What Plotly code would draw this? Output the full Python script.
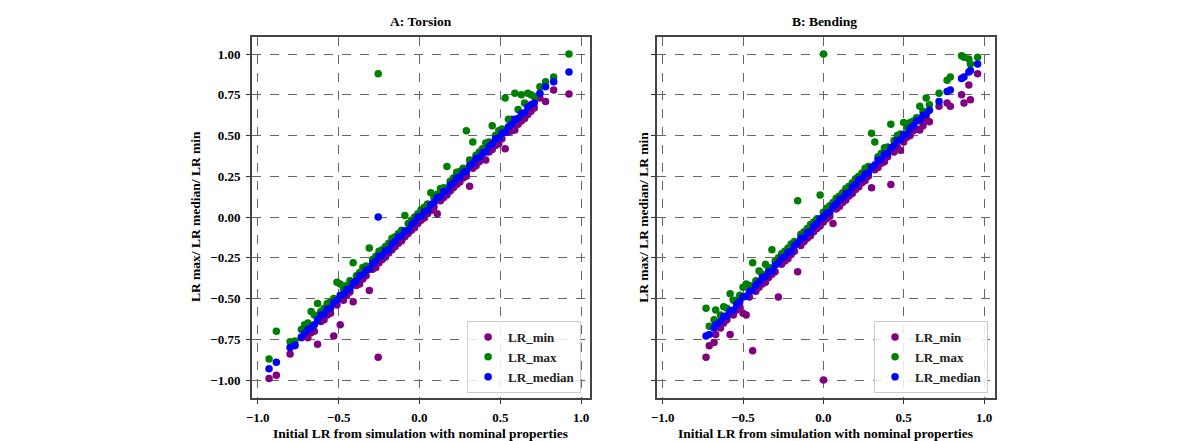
import plotly.graph_objects as go

# ---------------- A: Torsion ----------------
tor_x = [-0.93, -0.885, -0.80, -0.77, -0.73, -0.71, -0.69, -0.67, -0.65,
         -0.63, -0.61, -0.59, -0.57, -0.55, -0.53, -0.51, -0.49, -0.47, -0.45,
         -0.43, -0.41, -0.39, -0.37, -0.35, -0.33, -0.31, -0.29, -0.27, -0.25,
         -0.23, -0.21, -0.19, -0.17, -0.15, -0.13, -0.11, -0.09, -0.07, -0.05,
         -0.03, -0.01, 0.01, 0.03, 0.05, 0.07, 0.09, 0.11, 0.13, 0.15,
         0.17, 0.19, 0.21, 0.23, 0.25, 0.27, 0.29, 0.31, 0.33, 0.35,
         0.37, 0.39, 0.41, 0.43, 0.45, 0.47, 0.49, 0.51, 0.53, 0.55,
         0.57, 0.59, 0.61, 0.63, 0.65, 0.67, 0.69, 0.71,
         0.745, 0.78, 0.83, 0.925, -0.255]
tor_min = [-0.99, -0.97, -0.84, -0.79, -0.74, -0.73, -0.74, -0.71, -0.70,
           -0.78, -0.64, -0.63, -0.60, -0.59, -0.73, -0.54, -0.66, -0.51, -0.48,
           -0.46, -0.52, -0.42, -0.41, -0.38, -0.36, -0.45, -0.32, -0.31, -0.28,
           -0.26, -0.245, -0.22, -0.20, -0.18, -0.16, -0.145, -0.12, -0.10, -0.08,
           -0.065, -0.04, -0.02, -0.005, 0.02, 0.04, 0.06, 0.02, 0.10, 0.12,
           0.135, 0.16, 0.18, 0.20, 0.215, 0.24, 0.25, 0.19, 0.30, 0.315,
           0.34, 0.36, 0.35, 0.40, 0.415, 0.44, 0.45, 0.48, 0.42, 0.52,
           0.53, 0.535, 0.57, 0.59, 0.605, 0.63, 0.65, 0.67,
           0.73, 0.71, 0.78, 0.755, -0.86]
tor_max = [-0.87, -0.70, -0.765, -0.76, -0.69, -0.66, -0.65, -0.58, -0.60,
           -0.53, -0.58, -0.56, -0.53, -0.52, -0.50, -0.40, -0.41, -0.44, -0.42,
           -0.39, -0.28, -0.36, -0.34, -0.31, -0.30, -0.19, -0.26, -0.24, -0.21,
           -0.20, -0.18, -0.16, -0.13, -0.12, -0.10, -0.08, 0.01, -0.04, -0.02,
           0.00, 0.02, 0.045, 0.06, 0.08, 0.15, 0.12, 0.14, 0.175, 0.18,
           0.31, 0.22, 0.24, 0.275, 0.28, 0.30, 0.53, 0.35, 0.46, 0.38,
           0.40, 0.42, 0.455, 0.46, 0.56, 0.50, 0.53, 0.54, 0.73, 0.60,
           0.60, 0.76, 0.66, 0.75, 0.70, 0.76, 0.75, 0.74,
           0.80, 0.83, 0.86, 1.00, 0.88]
tor_med = [-0.93, -0.89, -0.80, -0.785, -0.735, -0.71, -0.69, -0.68, -0.66,
           -0.63, -0.60, -0.595, -0.565, -0.56, -0.525, -0.51, -0.48, -0.475, -0.445,
           -0.44, -0.405, -0.39, -0.36, -0.355, -0.325, -0.32, -0.285, -0.27, -0.24,
           -0.235, -0.205, -0.20, -0.165, -0.15, -0.12, -0.115, -0.085, -0.08, -0.045,
           -0.03, 0.00, 0.005, 0.035, 0.04, 0.075, 0.09, 0.12, 0.125, 0.155,
           0.16, 0.195, 0.21, 0.24, 0.245, 0.275, 0.28, 0.315, 0.33, 0.36,
           0.365, 0.395, 0.40, 0.435, 0.45, 0.48, 0.485, 0.515, 0.52, 0.555,
           0.57, 0.60, 0.605, 0.635, 0.64, 0.675, 0.69, 0.70,
           0.76, 0.80, 0.83, 0.89, 0.00]

# ---------------- B: Bending ----------------
ben_x = [-0.73, -0.71, -0.68, -0.67,
         -0.64, -0.62, -0.60, -0.58, -0.56, -0.54, -0.52, -0.50, -0.48, -0.46,
         -0.44, -0.42, -0.40, -0.38, -0.36, -0.34, -0.32, -0.30, -0.28, -0.26,
         -0.24, -0.22, -0.20, -0.18, -0.16, -0.14, -0.12, -0.10, -0.08, -0.06,
         -0.04, -0.02, 0.00, 0.02, 0.04, 0.06, 0.08, 0.10, 0.12, 0.14,
         0.16, 0.18, 0.20, 0.22, 0.24, 0.26, 0.28, 0.30, 0.32, 0.34,
         0.36, 0.38, 0.40, 0.42, 0.44, 0.46, 0.48, 0.50, 0.52, 0.54,
         0.56, 0.58, 0.60, 0.62, 0.64, 0.66,
         0.72, 0.77, 0.79, 0.86, 0.875, 0.905, 0.915, 0.96, 0.001]
ben_min = [-0.86, -0.79, -0.77, -0.72,
           -0.68, -0.65, -0.63, -0.72, -0.60, -0.57, -0.55, -0.59, -0.60, -0.49,
           -0.82, -0.455, -0.43, -0.41, -0.40, -0.37, -0.35, -0.335, -0.49, -0.29,
           -0.27, -0.255, -0.23, -0.21, -0.335, -0.175, -0.15, -0.13, -0.115, -0.09,
           -0.07, -0.055, -0.03, -0.01, 0.005, -0.04, 0.05, 0.065, 0.09, 0.105,
           0.13, 0.145, 0.17, 0.185, 0.21, 0.225, 0.25, 0.18, 0.29, 0.305,
           0.33, 0.34, 0.37, 0.20, 0.40, 0.43, 0.41, 0.46, 0.49, 0.50,
           0.53, 0.54, 0.535, 0.56, 0.60, 0.585,
           0.68, 0.70, 0.68, 0.75, 0.70, 0.81, 0.72, 0.88, -1.00]
ben_max = [-0.56, -0.67, -0.63, -0.57,
           -0.60, -0.55, -0.56, -0.47, -0.51, -0.51, -0.48, -0.43, -0.41, -0.42,
           -0.28, -0.39, -0.33, -0.35, -0.29, -0.31, -0.20, -0.27, -0.25, -0.225,
           -0.21, -0.19, -0.165, -0.15, 0.10, -0.105, -0.09, -0.07, -0.045, -0.03,
           -0.01, 0.135, 0.03, 0.055, 0.07, 0.09, 0.115, 0.13, 0.15, 0.175,
           0.19, 0.21, 0.235, 0.25, 0.27, 0.30, 0.31, 0.515, 0.46, 0.37,
           0.39, 0.425, 0.43, 0.57, 0.47, 0.50, 0.51, 0.58, 0.55, 0.58,
           0.59, 0.61, 0.68, 0.65, 0.73, 0.69,
           0.76, 0.84, 0.86, 0.99, 0.98, 0.97, 0.94, 0.98, 1.00]
ben_med = [-0.73, -0.72, -0.68, -0.66,
           -0.64, -0.61, -0.605, -0.575, -0.57, -0.535, -0.52, -0.49, -0.485, -0.455,
           -0.45, -0.415, -0.40, -0.37, -0.365, -0.335, -0.33, -0.295, -0.28, -0.25,
           -0.245, -0.215, -0.21, -0.175, -0.16, -0.13, -0.125, -0.095, -0.09, -0.055,
           -0.04, -0.01, 0.00, 0.025, 0.03, 0.065, 0.08, 0.11, 0.115, 0.145,
           0.15, 0.185, 0.20, 0.23, 0.235, 0.265, 0.27, 0.305, 0.32, 0.35,
           0.355, 0.385, 0.39, 0.425, 0.44, 0.47, 0.475, 0.505, 0.51, 0.545,
           0.56, 0.59, 0.595, 0.625, 0.63, 0.655,
           0.71, 0.77, 0.78, 0.85, 0.86, 0.89, 0.90, 0.94, 0.00]

series_names = ["LR_min", "LR_max", "LR_median"]
series_colors = ["#800080", "#008000", "#0000ff"]
x_ticks = [-1.0, -0.5, 0.0, 0.5, 1.0]
y_ticks = [-1.00, -0.75, -0.50, -0.25, 0.00, 0.25, 0.50, 0.75, 1.00]

W, H = 1190, 441
FONT = "Liberation Serif"

fig = go.Figure()

panels = [
    (tor_x, [tor_min, tor_max, tor_med], "x", "y", "legend"),
    (ben_x, [ben_min, ben_max, ben_med], "x2", "y2", "legend2"),
]
for xs, ys_list, xa, ya, lg in panels:
    for name, col, ys in zip(series_names, series_colors, ys_list):
        fig.add_trace(go.Scatter(
            x=xs, y=ys, mode="markers", name=name,
            marker=dict(color=col, size=7.5, line=dict(width=0)),
            xaxis=xa, yaxis=ya, legend=lg, showlegend=True,
        ))

tickfont = dict(family=FONT, size=13, color="black", weight="bold")
common_axis = dict(
    showline=True, mirror=True, linecolor="#444444", linewidth=1.5,
    ticks="outside", ticklen=4, tickcolor="#333333", tickwidth=1,
    showgrid=True, gridcolor="#666666", gridwidth=1, griddash="dash",
    zeroline=False, tickfont=tickfont, ticklabelstandoff=3,
)

legend_font = dict(family=FONT, size=13, color="#222222", weight="bold")
fig.update_layout(
    width=W, height=H,
    margin=dict(l=0, r=0, t=0, b=0),
    paper_bgcolor="white", plot_bgcolor="white",
    xaxis=dict(domain=[247 / W, 587 / W], range=[-1.037, 1.055], anchor="y",
               tickvals=x_ticks, ticktext=["−1.0", "−0.5", "0.0", "0.5", "1.0"],
               **common_axis),
    yaxis=dict(domain=[43 / H, 404 / H], range=[-1.11, 1.105], anchor="x",
               tickvals=y_ticks,
               ticktext=["−1.00", "−0.75", "−0.50", "−0.25", "0.00", "0.25", "0.50", "0.75", "1.00"],
               **common_axis),
    xaxis2=dict(domain=[654 / W, 994 / W], range=[-1.037, 1.068], anchor="y2",
                tickvals=x_ticks, ticktext=["−1.0", "−0.5", "0.0", "0.5", "1.0"],
                **common_axis),
    yaxis2=dict(domain=[43 / H, 404 / H], range=[-1.11, 1.105], anchor="x2",
                tickvals=y_ticks, showticklabels=False, **common_axis),
    legend=dict(x=578 / W, y=48 / H, xanchor="right", yanchor="bottom",
                bgcolor="rgba(255,255,255,0.85)", bordercolor="#cccccc", borderwidth=1,
                font=legend_font, itemwidth=30, tracegroupgap=0),
    legend2=dict(x=987 / W, y=48 / H, xanchor="right", yanchor="bottom",
                 bgcolor="rgba(255,255,255,0.85)", bordercolor="#cccccc", borderwidth=1,
                 font=legend_font, itemwidth=30, tracegroupgap=0),
)

title_font = dict(family=FONT, size=13.5, color="black", weight="bold")
label_font = dict(family=FONT, size=13.5, color="black", weight="bold")
ann = [
    dict(text="A: Torsion", x=417 / W, y=(H - 22) / H, font=title_font),
    dict(text="B: Bending", x=823 / W, y=(H - 22) / H, font=title_font),
    dict(text="Initial LR from simulation with nominal properties", x=417 / W, y=(H - 433) / H, font=label_font),
    dict(text="Initial LR from simulation with nominal properties", x=824 / W, y=(H - 433) / H, font=label_font),
    dict(text="LR max/ LR median/ LR min", x=190 / W, y=(H - 217) / H, font=label_font, textangle=-90),
    dict(text="LR max/ LR median/ LR min", x=640 / W, y=(H - 217) / H, font=label_font, textangle=-90),
]
for a in ann:
    fig.add_annotation(xref="paper", yref="paper", showarrow=False,
                       xanchor="center", yanchor="middle", **a)

fig.write_html(
    "out.html",
    config={"displayModeBar": False},
    post_script="document.body.style.margin='0';document.body.style.padding='0';document.body.style.overflow='hidden';",
)
